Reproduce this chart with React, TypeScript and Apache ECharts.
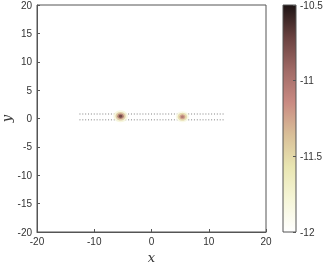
import React, { useEffect, useRef } from "react";
import * as echarts from "echarts";

const xTicks = [-20, -10, 0, 10, 20];
const yTicks = [-20, -15, -10, -5, 0, 5, 10, 15, 20];
const cbTicks = [-12, -11.5, -11, -10.5];
const gridX = [-12.5, -12, -11.5, -11, -10.5, -10, -9.5, -9, -8.5, -8, -7.5, -7, -6.5, -6, -5.5, -5, -4.5, -4, -3.5, -3, -2.5, -2, -1.5, -1, -0.5, 0, 0.5, 1, 1.5, 2, 2.5, 3, 3.5, 4, 4.5, 5, 5.5, 6, 6.5, 7, 7.5, 8, 8.5, 9, 9.5, 10, 10.5, 11, 11.5, 12, 12.5];
const gridRows = [0.8, -0.2];
// blob samples: [x, y, value, size]
const blobs: [number, number, number, number][] = [
  [-5.4, 0.4, -11.8, 12],
  [-5.4, 0.4, -11.4, 8.5],
  [-5.4, 0.4, -11.0, 5.5],
  [-5.4, 0.4, -10.7, 3],
  [5.4, 0.3, -11.85, 11],
  [5.4, 0.3, -11.5, 8],
  [5.4, 0.3, -11.2, 5],
  [5.4, 0.3, -11.0, 2.5],
];
const cmap = ["#ffffff", "#f6f6d8", "#e9e6b2", "#d9bf98", "#c98a82", "#a06a66", "#6a4240", "#1e1414"];

export default function App() {
  const ref = useRef<HTMLDivElement>(null);
  useEffect(() => {
    const chart = echarts.init(ref.current!, undefined, { renderer: "svg" });
    const meshData: number[][] = [];
    gridRows.forEach((y) => gridX.forEach((x) => meshData.push([x, y])));
    const font = "Liberation Sans";
    chart.setOption({
      animation: false,
      grid: [
        { left: 37, right: 58, top: 5, bottom: 35, show: true, borderColor: "#555", borderWidth: 1, containLabel: false, outerBoundsMode: "none" },
        { left: 283, width: 13, top: 5, bottom: 35, show: false, containLabel: false, outerBoundsMode: "none" },
      ],
      xAxis: [
        {
          type: "value", min: xTicks[0], max: xTicks[xTicks.length - 1], interval: 10, gridIndex: 0,
          axisLine: { onZero: false, lineStyle: { color: "#555" } },
          axisTick: { inside: true, length: 3, lineStyle: { color: "#555" } },
          splitLine: { show: false },
          axisLabel: { color: "#333", fontSize: 10, fontFamily: font, margin: 4 },
          name: "x", nameLocation: "middle", nameGap: 19, nameMoveOverlap: false,
          nameTextStyle: { fontFamily: "DejaVu Serif", fontStyle: "italic", fontSize: 13, color: "#333" },
        },
        { type: "value", gridIndex: 1, show: false, min: 0, max: 1 },
      ],
      yAxis: [
        {
          type: "value", min: yTicks[0], max: yTicks[yTicks.length - 1], interval: 5, gridIndex: 0,
          axisLine: { onZero: false, lineStyle: { color: "#555" } },
          axisTick: { inside: true, length: 3, lineStyle: { color: "#555" } },
          splitLine: { show: false },
          axisLabel: { color: "#333", fontSize: 10, fontFamily: font, margin: 5 },
          name: "y", nameLocation: "middle", nameGap: 24, nameRotate: 90, nameMoveOverlap: false,
          nameTextStyle: { fontFamily: "DejaVu Serif", fontStyle: "italic", fontSize: 13, color: "#333" },
        },
        {
          type: "value", gridIndex: 1, position: "right", min: cbTicks[0], max: cbTicks[cbTicks.length - 1], interval: 0.5,
          axisLine: { show: false, onZero: false },
          axisTick: { show: true, inside: true, length: 3, lineStyle: { color: "#555" } },
          splitLine: { show: false },
          axisLabel: { color: "#333", fontSize: 10, fontFamily: font, margin: 4, showMinLabel: true, showMaxLabel: true },
        },
      ],
      visualMap: {
        show: false, type: "continuous", min: -12, max: -10.5, dimension: 2, seriesIndex: 1,
        inRange: { color: cmap },
      },
      graphic: [
        {
          type: "rect", shape: { x: 283, y: 5, width: 13, height: 227 }, z: 0,
          style: {
            stroke: "#555", lineWidth: 1,
            fill: new echarts.graphic.LinearGradient(0, 1, 0, 0,
              cmap.map((c, i) => ({ offset: i / (cmap.length - 1), color: c }))),
          },
        },
      ],
      series: [
        {
          type: "scatter", xAxisIndex: 0, yAxisIndex: 0, data: meshData,
          symbol: "rect", symbolSize: [1, 1.5], silent: true,
          itemStyle: { color: "#888", opacity: 0.7 },
        },
        {
          type: "scatter", xAxisIndex: 0, yAxisIndex: 0, silent: true,
          data: blobs.map((b) => ({ value: [b[0], b[1], b[2]], symbolSize: [b[3] * 1.2, b[3]] })),
          itemStyle: { opacity: 0.85 },
        },
      ],
    });
    return () => chart.dispose();
  }, []);
  return <div ref={ref} style={{ position: "fixed", left: 0, top: 0, width: 324, height: 267 }} />;
}
